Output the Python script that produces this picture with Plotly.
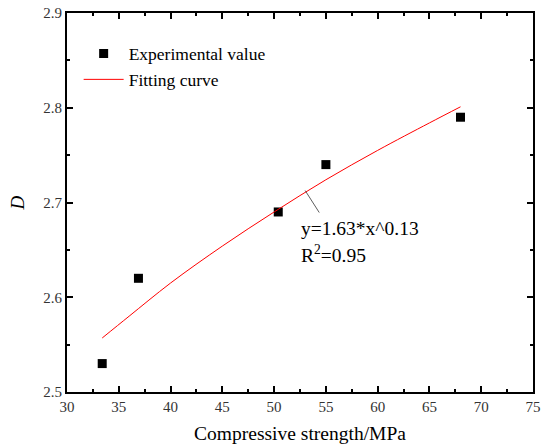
import plotly.graph_objects as go

# Experimental data
strength = [33.4, 36.9, 50.4, 55.0, 68.0]
D_values = [2.53, 2.62, 2.69, 2.74, 2.79]

# Fitting curve
fit_x = [33.4, 36.0, 40.0, 45.0, 50.0, 55.0, 60.0, 65.0, 68.0]
fit_y = [2.557, 2.580, 2.615, 2.654, 2.690, 2.724, 2.755, 2.784, 2.801]

x_ticks = [30, 35, 40, 45, 50, 55, 60, 65, 70, 75]
y_ticks = [2.5, 2.6, 2.7, 2.8, 2.9]

font = "Liberation Serif"

fig = go.Figure()
fig.add_trace(go.Scatter(x=strength, y=D_values, mode="markers", name="Experimental value",
                         marker=dict(symbol="square", size=9, color="black")))
fig.add_trace(go.Scatter(x=fit_x, y=fit_y, mode="lines", name="Fitting curve",
                         line=dict(color="red", width=1), line_shape="spline"))

axis_common = dict(showline=True, linecolor="black", linewidth=2, mirror="allticks",
                   ticks="inside", ticklen=6, tickwidth=2, tickcolor="black",
                   showgrid=False, zeroline=False, automargin=False,
                   tickfont=dict(family=font, size=15, color="#333"))

fig.update_xaxes(range=[30, 75], tickvals=x_ticks,
                 minor=dict(ticks="inside", ticklen=3, tickwidth=2, tickcolor="black", dtick=2.5, tick0=30),
                 title=dict(text="Compressive strength/MPa", font=dict(family=font, size=19.5, color="black"), standoff=12),
                 **axis_common)
fig.update_yaxes(range=[2.5, 2.9], tickvals=y_ticks, tickformat=".1f",
                 minor=dict(ticks="inside", ticklen=3, tickwidth=2, tickcolor="black", dtick=0.05, tick0=2.5),
                 title=dict(text="<i>D</i>", font=dict(family=font, size=19, color="black"), standoff=14),
                 **axis_common)

fig.add_annotation(x=53.0, y=2.7126, text=" ", showarrow=True, arrowhead=0, arrowwidth=0.8,
                   arrowcolor="#333", ax=16, ay=25, font=dict(size=2))
fig.add_annotation(x=52.45, y=2.673, text="y=1.63*x^0.13", showarrow=False, xanchor="left",
                   font=dict(family=font, size=19.5, color="black"))
fig.add_annotation(x=52.45, y=2.646, text="R<sup>2</sup>=0.95", showarrow=False, xanchor="left",
                   font=dict(family=font, size=19.5, color="black"))

fig.update_layout(width=544, height=447, margin=dict(l=67, r=11, t=13, b=55, autoexpand=False),
                  plot_bgcolor="white", paper_bgcolor="white",
                  legend=dict(x=0.025, y=0.94, xanchor="left", yanchor="top", bgcolor="rgba(0,0,0,0)",
                              font=dict(family=font, size=17.5, color="black"), tracegroupgap=0,
                              itemwidth=40))

fig.write_html("out.html")
